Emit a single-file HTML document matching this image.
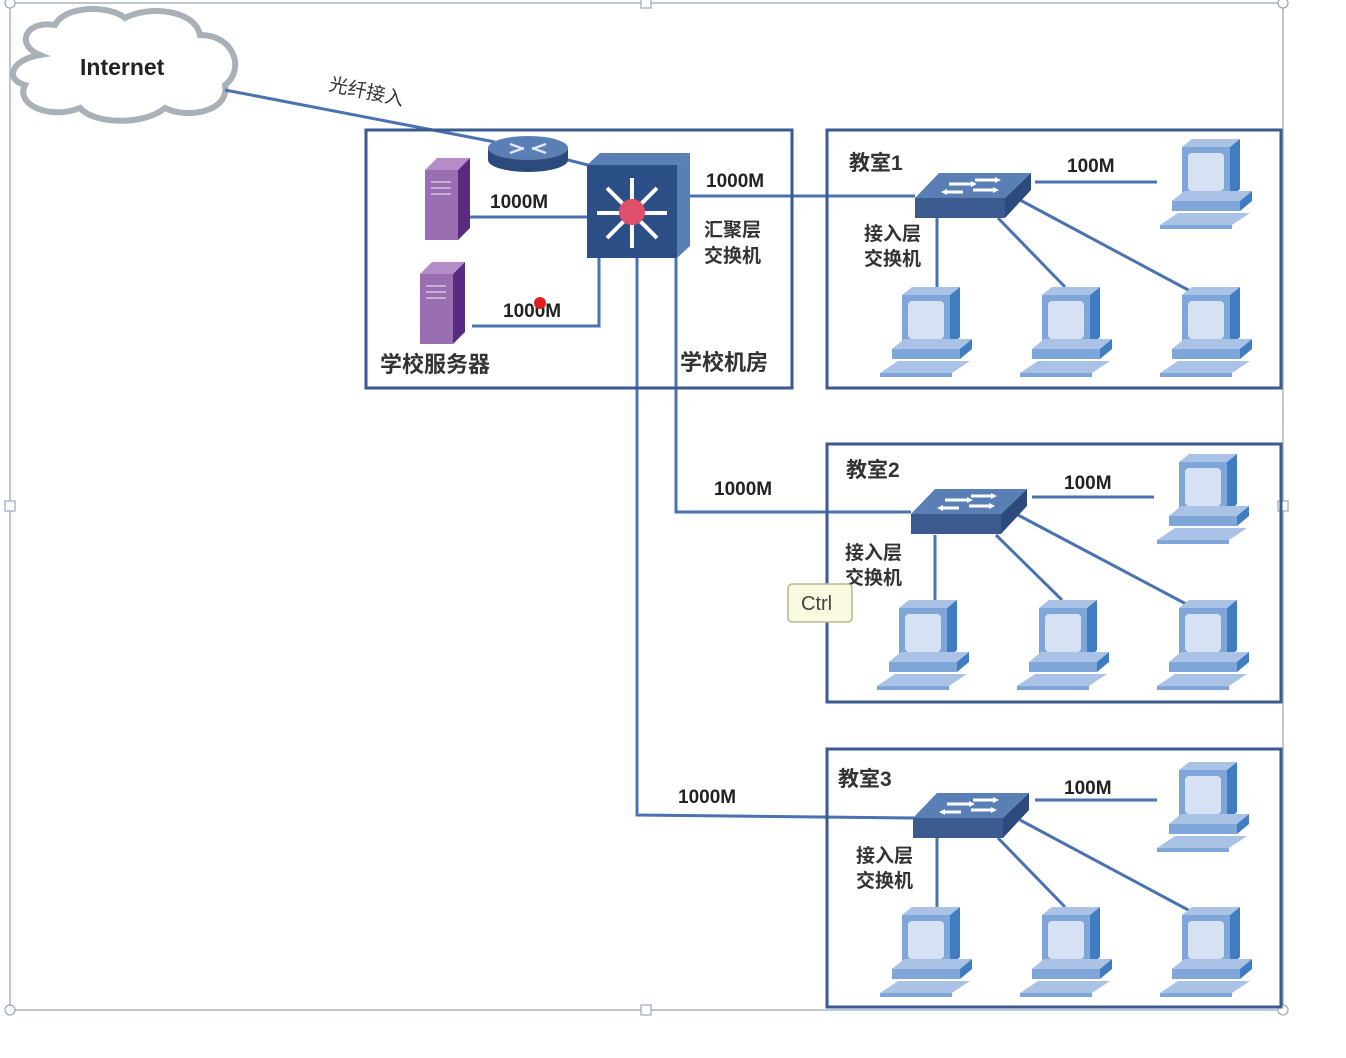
<!DOCTYPE html>
<html><head><meta charset="utf-8"><style>
html,body{margin:0;padding:0;background:#fff;}
svg{display:block;}
text{font-family:"Liberation Sans","Noto Sans CJK SC",sans-serif;}
.lbl{font-size:19px;font-weight:bold;fill:#222;}
.cn{font-size:21px;font-weight:bold;fill:#333;}
.cns{font-size:19px;font-weight:bold;fill:#333;}
</style></head><body>
<svg width="1346" height="1058" viewBox="0 0 1346 1058" xmlns="http://www.w3.org/2000/svg">
<defs>
<g id="pc">
  <polygon points="22,10 70,10 80,2 32,2" fill="#a9c2e6"/>
  <rect x="22" y="10" width="48" height="52" fill="#7fa6d8"/>
  <rect x="28" y="16" width="36" height="38" rx="4" fill="#d6e2f4"/>
  <polygon points="70,10 80,2 80,52 70,62" fill="#3f7cc0"/>
  <polygon points="12,64 80,64 92,54 24,54" fill="#a9c2e6"/>
  <rect x="12" y="64" width="68" height="10" fill="#7fa6d8"/>
  <polygon points="80,64 92,54 92,64 80,74" fill="#3f7cc0"/>
  <polygon points="0,88 72,88 90,76 18,76" fill="#a9c2e6"/>
  <rect x="0" y="88" width="72" height="4" fill="#7fa6d8"/>
</g>
<g id="sw">
  <polygon points="0,0 90,0 116,-25 24,-25" fill="#5a7fb5"/>
  <rect x="0" y="0" width="90" height="20" fill="#3a5a90"/>
  <polygon points="90,0 116,-25 116,-8 90,20" fill="#2d4a7c"/>
  <path d="M30,-6 l18,0 M34,-14 l24,0 M60,-18 l22,0 M58,-8 l22,0" stroke="#fff" stroke-width="3"/>
  <path d="M26,-6 l6,-3 v6z M62,-14 l-6,-3 v6z M86,-18 l-6,-3 v6z M84,-8 l-6,-3 v6z" fill="#fff"/>
</g>
<g id="server">
  <polygon points="0,12 12,0 45,0 33,12" fill="#b48cc8"/>
  <rect x="0" y="12" width="33" height="70" fill="#9a6fb2"/>
  <polygon points="33,12 45,0 45,70 33,82" fill="#5a2a80"/>
  <path d="M6,24 h20 M6,30 h20 M6,36 h20" stroke="#c9aedc" stroke-width="2"/>
</g>
</defs>

<rect x="10" y="3" width="1273" height="1007" fill="none" stroke="#a8b4c8" stroke-width="1.5"/>
<g fill="#fff" stroke="#9aa8bc" stroke-width="1.2">
<circle cx="10" cy="3" r="5"/><rect x="641" y="-2" width="10" height="10"/><circle cx="1283" cy="3" r="5"/>
<rect x="5" y="501" width="10" height="10"/><rect x="1278" y="501" width="10" height="10"/>
<circle cx="10" cy="1010" r="5"/><rect x="641" y="1005" width="10" height="10"/><circle cx="1283" cy="1010" r="5"/>
</g>

<path d="M40,55 C15,45 25,20 55,25 C65,5 110,5 125,18 C150,5 195,10 200,35 C235,35 245,70 225,85 C230,110 190,120 165,108 C145,125 95,125 80,108 C50,120 15,105 25,85 C5,80 10,60 40,55 Z" fill="#fff" stroke="#aab0b8" stroke-width="6"/>
<text x="80" y="75" style="font-size:23px;font-weight:bold;fill:#222">Internet</text>

<g stroke="#4a72b0" stroke-width="3" fill="none">
<line x1="225" y1="90" x2="495" y2="142"/>
<line x1="560" y1="158" x2="592" y2="166"/>
<line x1="470" y1="217" x2="590" y2="217"/>
<polyline points="472,326 599,326 599,258"/>
<line x1="690" y1="196" x2="915" y2="196"/>
<polyline points="637,258 637,815 915,818"/>
<polyline points="676,258 676,512 911,512"/>
<line x1="1035" y1="182" x2="1157" y2="182"/>
<line x1="937" y1="218" x2="937" y2="290"/>
<line x1="998" y1="218" x2="1065" y2="287"/>
<line x1="1020" y1="200" x2="1192" y2="292"/>
<line x1="1032" y1="497" x2="1154" y2="497"/>
<line x1="935" y1="535" x2="935" y2="602"/>
<line x1="996" y1="535" x2="1062" y2="600"/>
<line x1="1018" y1="515" x2="1188" y2="605"/>
<line x1="1035" y1="800" x2="1157" y2="800"/>
<line x1="937" y1="838" x2="937" y2="910"/>
<line x1="998" y1="838" x2="1065" y2="907"/>
<line x1="1020" y1="820" x2="1192" y2="912"/>
</g>

<g fill="none" stroke="#3a5a90" stroke-width="3">
<rect x="366" y="130" width="426" height="258"/>
<rect x="827" y="130" width="454" height="258"/>
<rect x="827" y="444" width="454" height="258"/>
<rect x="827" y="749" width="454" height="258"/>
</g>

<ellipse cx="528" cy="160" rx="40" ry="12" fill="#2d4a7c"/>
<rect x="488" y="148" width="80" height="12" fill="#2d4a7c"/>
<ellipse cx="528" cy="148" rx="40" ry="12" fill="#5a7fb5"/>
<path d="M510,144 l14,5 M546,144 l-14,5 M510,153 l14,-5 M546,153 l-14,-5" stroke="#dfe8f5" stroke-width="2.5"/>

<polygon points="587,165 677,165 690,153 600,153" fill="#5a7fb5"/>
<rect x="587" y="165" width="90" height="93" fill="#2d4f88"/>
<polygon points="677,165 690,153 690,246 677,258" fill="#5a7fb5"/>
<g stroke="#fff" stroke-width="4">
<line x1="632" y1="178" x2="632" y2="248"/><line x1="597" y1="213" x2="667" y2="213"/>
<line x1="607" y1="188" x2="657" y2="238"/><line x1="657" y1="188" x2="607" y2="238"/>
</g>
<circle cx="632" cy="212" r="13" fill="#e0506a"/>

<use href="#server" x="425" y="158"/>
<use href="#server" x="420" y="262"/>

<use href="#sw" x="915" y="198"/>
<use href="#sw" x="911" y="514"/>
<use href="#sw" x="913" y="818"/>

<use href="#pc" x="1160" y="137"/>
<use href="#pc" x="880" y="285"/><use href="#pc" x="1020" y="285"/><use href="#pc" x="1160" y="285"/>
<use href="#pc" x="1157" y="452"/>
<use href="#pc" x="877" y="598"/><use href="#pc" x="1017" y="598"/><use href="#pc" x="1157" y="598"/>
<use href="#pc" x="1157" y="760"/>
<use href="#pc" x="880" y="905"/><use href="#pc" x="1020" y="905"/><use href="#pc" x="1160" y="905"/>

<text x="328" y="90" class="cns" style="font-weight:normal" transform="rotate(12 328 90)">光纤接入</text>
<text x="490" y="208" class="lbl">1000M</text>
<text x="503" y="317" class="lbl">1000M</text>
<circle cx="540" cy="303" r="6" fill="#e02020"/>
<text x="706" y="187" class="lbl">1000M</text>
<text x="704" y="236" class="cns">汇聚层</text>
<text x="704" y="262" class="cns">交换机</text>
<text x="380" y="372" class="cns" style="font-size:22px">学校服务器</text>
<text x="680" y="370" class="cns" style="font-size:22px">学校机房</text>
<text x="714" y="495" class="lbl">1000M</text>
<text x="678" y="803" class="lbl">1000M</text>

<text x="849" y="170" class="cn">教室1</text>
<text x="1067" y="172" class="lbl">100M</text>
<text x="864" y="240" class="cns">接入层</text>
<text x="864" y="265" class="cns">交换机</text>

<text x="846" y="477" class="cn">教室2</text>
<text x="1064" y="489" class="lbl">100M</text>
<text x="845" y="559" class="cns">接入层</text>
<text x="845" y="584" class="cns">交换机</text>

<text x="838" y="786" class="cn">教室3</text>
<text x="1064" y="794" class="lbl">100M</text>
<text x="856" y="862" class="cns">接入层</text>
<text x="856" y="887" class="cns">交换机</text>

<rect x="788" y="584" width="64" height="38" rx="4" fill="#fafae0" stroke="#b8b890" stroke-width="1.5"/>
<text x="801" y="610" style="font-size:20px;fill:#444">Ctrl</text>
</svg>
</body></html>
